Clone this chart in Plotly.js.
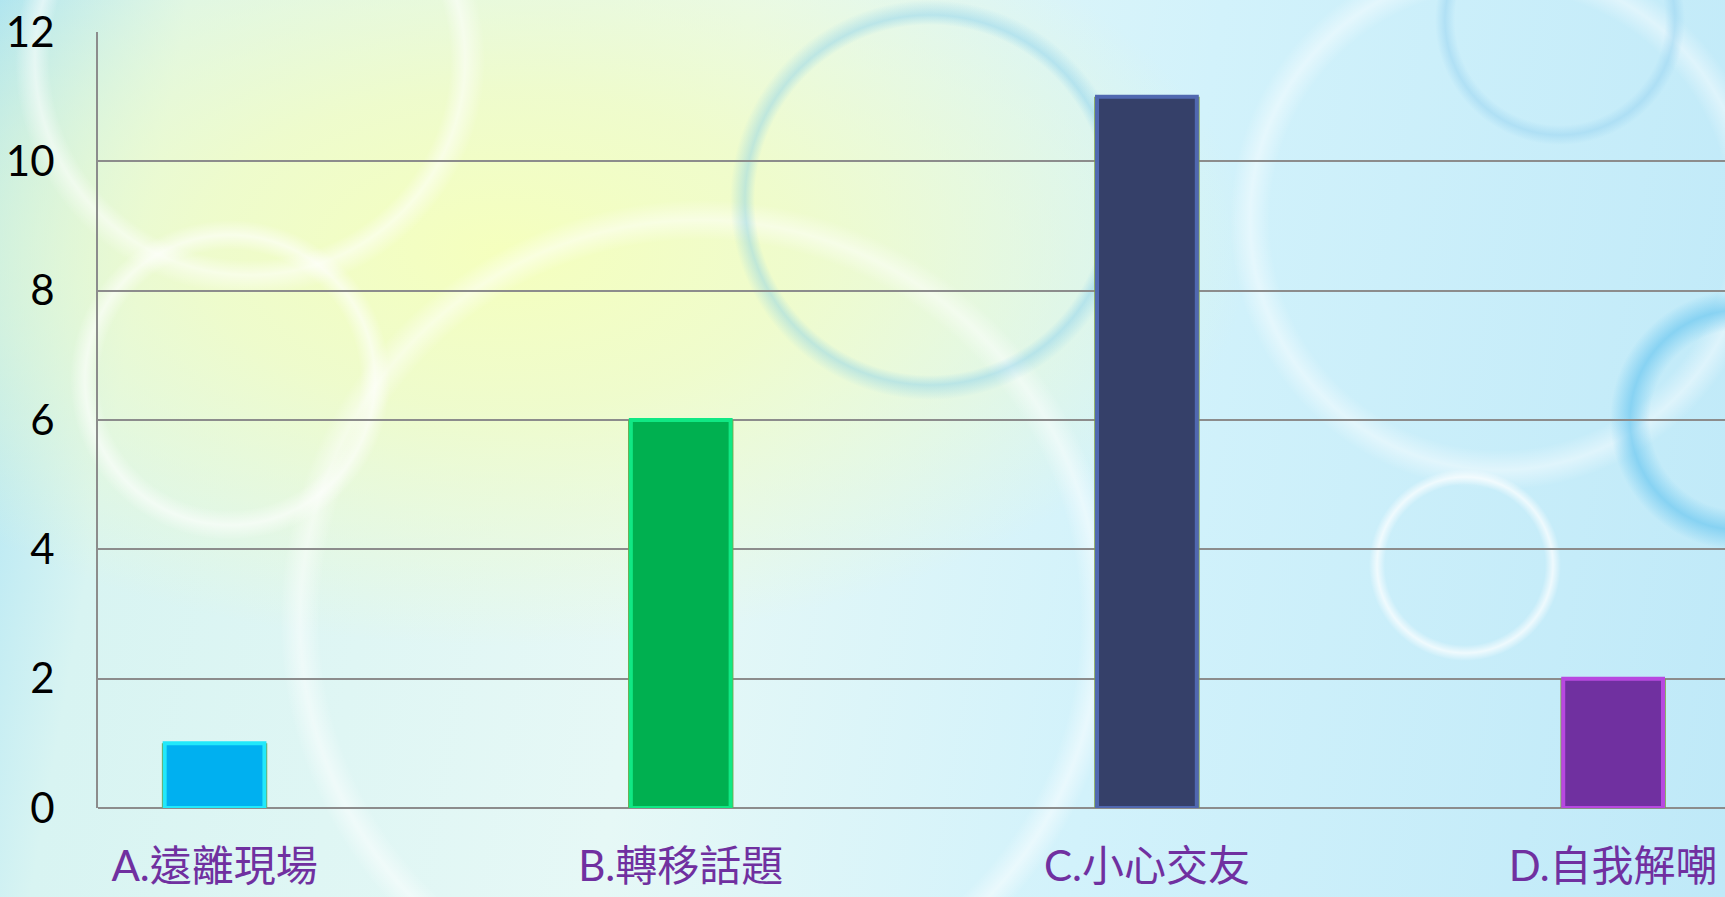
<!DOCTYPE html>
<html>
<head>
<meta charset="utf-8">
<script src="https://cdn.plot.ly/plotly-3.0.1.min.js"></script>
<style>
html,body{margin:0;padding:0;width:1725px;height:897px;overflow:hidden;}
body{
  background:
    radial-gradient(circle at 250px 60px, rgba(255,255,255,0) 200px, rgba(255,255,255,0.55) 215px, rgba(255,255,255,0) 235px),
    radial-gradient(circle at 230px 380px, rgba(255,255,255,0) 130px, rgba(255,255,255,0.6) 145px, rgba(255,255,255,0) 160px),
    radial-gradient(circle at 930px 200px, rgba(120,200,235,0) 175px, rgba(120,200,235,0.4) 185px, rgba(120,200,235,0) 200px),
    radial-gradient(circle at 700px 620px, rgba(255,255,255,0) 380px, rgba(255,255,255,0.5) 400px, rgba(255,255,255,0) 420px),
    radial-gradient(circle at 1560px 20px, rgba(150,210,240,0) 105px, rgba(150,210,240,0.5) 115px, rgba(150,210,240,0) 125px),
    radial-gradient(circle at 1465px 565px, rgba(255,255,255,0) 80px, rgba(255,255,255,0.7) 88px, rgba(255,255,255,0) 96px),
    radial-gradient(circle at 1740px 420px, rgba(110,200,240,0) 90px, rgba(110,200,240,0.7) 110px, rgba(110,200,240,0) 130px),
    radial-gradient(circle at 1500px 220px, rgba(255,255,255,0) 230px, rgba(255,255,255,0.45) 250px, rgba(255,255,255,0) 270px),
    radial-gradient(ellipse at 500px 250px, rgba(245,255,190,1) 0px, rgba(240,252,200,0.9) 300px, rgba(220,248,230,0) 750px),
    linear-gradient(100deg, #a8e2f5 0%, #d8f4f2 10%, #e6f8f6 40%, #d2f2fb 65%, #bfe9f8 100%);
}
#chart{width:1725px;height:897px;}
</style>
</head>
<body>
<div id="chart"></div>
<script>
var categories = ["A.遠離現場", "B.轉移話題", "C.小心交友", "D.自我解嘲"];
var values = [1, 6, 11, 2];
var yTicks = [0, 2, 4, 6, 8, 10, 12];

var fillColors = ["#00B0F0", "#00B050", "#354069", "#7030A0"];
var bevelColors = ["#22E8FA", "#10E884", "#5068B0", "#B848E0"];
var outlineColor = "#7E9E44";

var outer = {
  type: "bar",
  x: categories,
  y: values,
  width: 0.226,
  marker: {color: outlineColor, line: {width: 0}},
  hoverinfo: "skip",
  showlegend: false
};
var inner = {
  type: "bar",
  x: categories,
  y: values,
  width: 0.214,
  marker: {color: fillColors, line: {color: bevelColors, width: 4}},
  showlegend: false
};

var layout = {
  width: 1725,
  height: 897,
  margin: {l: 98, r: 0, t: 32, b: 89, pad: 0},
  paper_bgcolor: "rgba(0,0,0,0)",
  plot_bgcolor: "rgba(0,0,0,0)",
  barmode: "overlay",
  showlegend: false,
  xaxis: {
    type: "category",
    range: [-0.25, 3.24],
    showgrid: false,
    showline: false,
    zeroline: false,
    ticks: "",
    tickfont: {family: "Lato, 'Noto Sans CJK TC', sans-serif", size: 42, color: "#7030A0"},
    ticklabelstandoff: 30
  },
  yaxis: {
    range: [0, 12],
    tickvals: yTicks,
    ticktext: yTicks.map(String),
    showgrid: true,
    gridcolor: "#8C8C8C",
    gridwidth: 2,
    showline: true,
    linecolor: "#8C8C8C",
    linewidth: 2,
    zeroline: true,
    zerolinecolor: "#8C8C8C",
    zerolinewidth: 2,
    ticks: "",
    ticklabelstandoff: 33,
    tickfont: {family: "Lato, 'Open Sans', sans-serif", size: 42, color: "#000000"}
  }
};

Plotly.newPlot("chart", [outer, inner], layout, {displayModeBar: false, staticPlot: true});
</script>
</body>
</html>
